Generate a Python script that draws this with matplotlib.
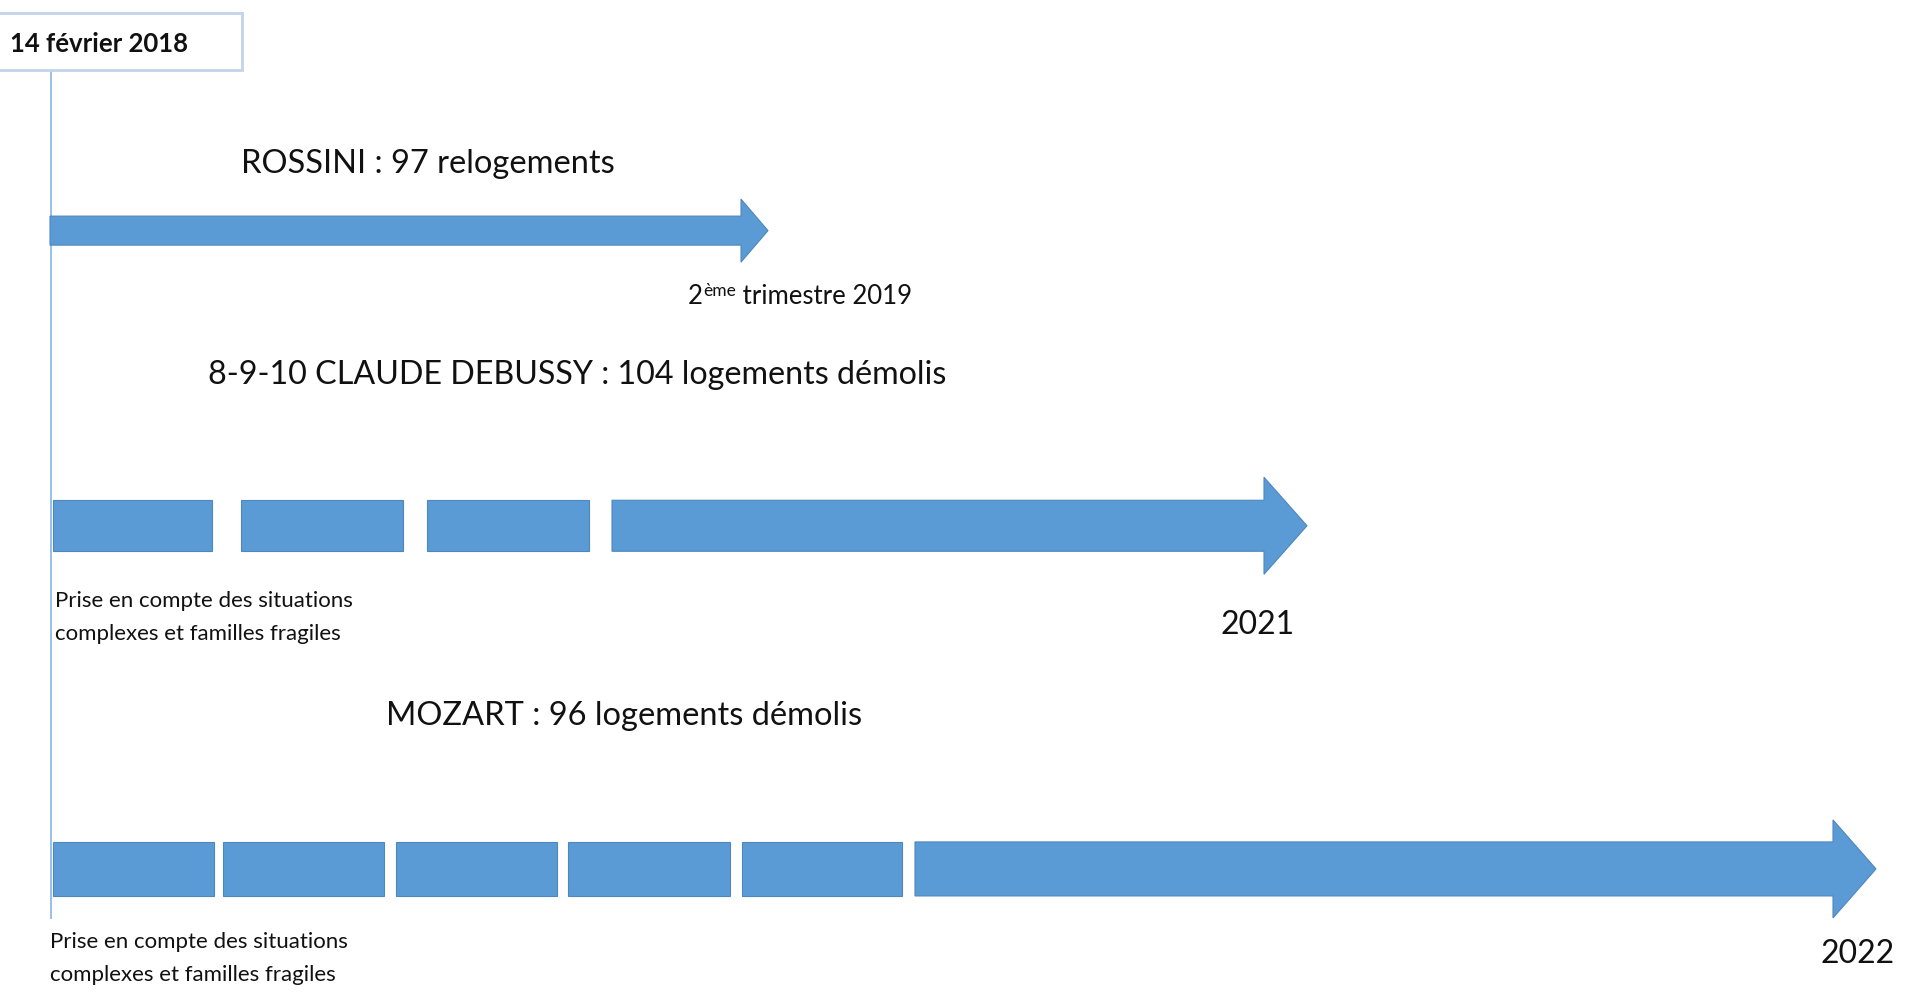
#!/usr/bin/env python3
"""Relogement timeline for the Rossini / Debussy / Mozart buildings."""

import matplotlib

matplotlib.use("Agg")
import matplotlib.pyplot as plt
from matplotlib.patches import Polygon, Rectangle

# timeline content, top to bottom
start_label = "14 février 2018"
titles = [
    "ROSSINI : 97 relogements",
    "8-9-10 CLAUDE DEBUSSY : 104 logements démolis",
    "MOZART : 96 logements démolis",
]
end_labels = ["trimestre 2019", "2021", "2022"]
note_lines = ["Prise en compte des situations", "complexes et familles fragiles"]

# preparation blocks and final arrow, in timeline units (left to right)
prep_starts = [[], [53, 241, 427], [53, 223, 396, 568, 742]]
prep_ends = [[], [212, 403, 589], [214, 384, 557, 730, 902]]
arrow_starts = [50, 612, 915]
arrow_tips = [768, 1307, 1876]

FILL = "#5b9bd5"
EDGE = "#4f87bd"
INK = "#111111"

plt.rcParams["font.family"] = ["Lato", "DejaVu Sans"]


def draw_arrow(ax, x0, tip, yc, half_shaft, half_head, head_len):
    neck = tip - head_len
    pts = [
        (x0, yc - half_shaft), (neck, yc - half_shaft), (neck, yc - half_head),
        (tip, yc), (neck, yc + half_head), (neck, yc + half_shaft),
        (x0, yc + half_shaft),
    ]
    ax.add_patch(Polygon(pts, closed=True, facecolor=FILL, edgecolor=EDGE,
                         linewidth=0.8, zorder=3))


def main():
    fig = plt.figure(figsize=(19.2, 9.955), dpi=100)
    ax = fig.add_axes([0, 0, 1, 1])
    ax.set_xlim(0, 1920)
    ax.set_ylim(995, 0)
    ax.axis("off")

    # start marker
    ax.add_patch(Rectangle((-2, 13), 244, 57, facecolor="white",
                           edgecolor="#c3d3ea", linewidth=2, zorder=2))
    ax.text(10, 44, start_label, fontsize=18.5, fontweight="bold",
            color=INK, va="center", ha="left", zorder=4)
    ax.plot([51, 51], [70, 918], color="#9dbfe6", linewidth=1.4, zorder=1)

    row_y = [231, 526, 869]
    half_shafts = [14.5, 25.5, 27]
    half_heads = [31.5, 48.5, 49]
    head_lens = [27, 43, 43]
    title_pos = [(241, 164), (208, 375), (386, 716)]
    title_sizes = [23.5, 23.2, 23.5]
    for i, title in enumerate(titles):
        yc = row_y[i]
        for x0, x1 in zip(prep_starts[i], prep_ends[i]):
            ax.add_patch(Rectangle((x0, yc - half_shafts[i]), x1 - x0,
                                   2 * half_shafts[i], facecolor=FILL,
                                   edgecolor=EDGE, linewidth=0.8, zorder=3))
        draw_arrow(ax, arrow_starts[i], arrow_tips[i], yc,
                   half_shafts[i], half_heads[i], head_lens[i])
        tx, ty = title_pos[i]
        ax.text(tx, ty, title, fontsize=title_sizes[i], color=INK,
                va="center", ha="left")

    # end labels
    fig.canvas.draw()
    r = fig.canvas.get_renderer()
    two = ax.text(688, 296, "2", fontsize=18.5, color=INK,
                  va="center", ha="left")
    bb = two.get_window_extent(r)
    sup = ax.annotate("ème", xy=(bb.x1, bb.y1), xycoords="figure pixels",
                      xytext=(0, 1), textcoords="offset pixels",
                      fontsize=12.5, color=INK, va="top", ha="left")
    bb2 = sup.get_window_extent(r)
    ax.annotate(" " + end_labels[0], xy=(bb2.x1, (bb.y0 + bb.y1) / 2),
                xycoords="figure pixels", fontsize=18.5, color=INK,
                va="center", ha="left")
    ax.text(1220, 625, end_labels[1], fontsize=23, color=INK,
            va="center", ha="left")
    ax.text(1821, 954, end_labels[2], fontsize=23, color=INK,
            va="center", ha="left")

    # notes under the dashed rows
    for x, y in [(55, 601), (50, 942)]:
        for k, line in enumerate(note_lines):
            ax.text(x, y + 33 * k, line, fontsize=16, color=INK,
                    va="center", ha="left")

    fig.savefig("out.png", dpi=100, facecolor="white")
    plt.close(fig)


if __name__ == "__main__":
    main()
